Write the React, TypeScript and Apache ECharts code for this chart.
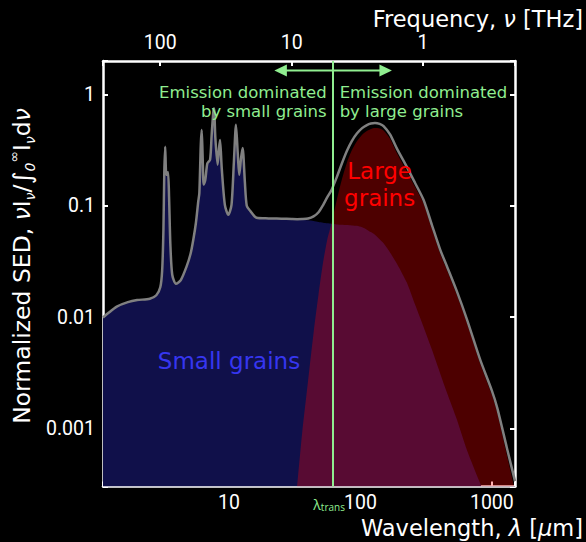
import React, { useEffect, useRef } from 'react';
import * as echarts from 'echarts';

// Speed of light in μm·THz, used to turn wavelength into frequency.
const C_UM_THZ = 299.792458;

// Axis extents
const X_MIN = 1.1;
const X_MAX = 1500;
const Y_MIN = 3e-4;
const Y_MAX = 2;

// Transition wavelength between the two regimes (μm)
const LAMBDA_TRANS = 62;

// Wavelength grid (μm)
const wavelengths = [
  1.1, 1.2, 1.4, 1.7, 2.0, 2.5, 2.8, 3.0, 3.1, 3.17, 3.22, 3.27, 3.33, 3.38, 3.44, 3.5, 3.58, 3.7,
  3.95, 4.3, 4.76, 5.1, 5.35, 5.6, 5.84, 5.95, 6.1, 6.2, 6.3, 6.42, 6.6, 6.84, 7.18, 7.38, 7.6,
  7.7, 7.87, 8.19, 8.4, 8.55, 8.8, 9.3, 9.88, 10.45, 10.9, 11.3, 11.65, 11.97, 12.35, 12.7, 13.2,
  13.65, 14.5, 16.2, 20, 25, 30, 33, 36, 40, 44, 48, 52, 56, 60, 66, 72, 79, 86, 94, 103, 112,
  120, 129, 140, 150, 168, 190, 225, 260, 302, 350, 405, 455, 542, 646, 816, 1000, 1100, 1300,
  1500,
];

// Normalized SED of the small grains (PAH bands + hot continuum)
const smallGrains = [
  0.0099, 0.0108, 0.0124, 0.0136, 0.0142, 0.0146, 0.0157, 0.0185, 0.026, 0.06, 0.2, 0.34, 0.19,
  0.19, 0.2, 0.12, 0.045, 0.024,
  0.0199, 0.0215, 0.0285, 0.037, 0.0495, 0.07, 0.11, 0.13, 0.35, 0.48, 0.28, 0.155, 0.17, 0.24,
  0.26, 0.43, 0.7,
  0.75, 0.41, 0.234, 0.33, 0.39, 0.22, 0.102, 0.083, 0.102, 0.25, 0.534, 0.3, 0.19, 0.268, 0.33,
  0.165,
  0.1, 0.09, 0.078, 0.077, 0.0765, 0.076, 0.0755, 0.075, 0.074, 0.073, 0.0715, 0.0705, 0.0695,
  0.069, 0.068, 0.0675, 0.067, 0.0665, 0.066, 0.064, 0.061,
  0.058, 0.055, 0.05, 0.046, 0.038, 0.03, 0.0205, 0.013, 0.0082, 0.0051, 0.0031, 0.0021, 0.0012,
  0.00064, 0.00032, 0.00018, 0.00014, 0.00009,
  0.00006,
];

// Normalized SED of the large grains (thermal equilibrium emission)
const largeGrains: (number | null)[] = [
  null, null, null, null, null, null, null, null, null, null, null, null, null, null, null, null,
  null, null,
  null, null, null, null, null, null, null, null, null, null, null, null, null, null, null, null,
  null,
  null, null, null, null, null, null, null, null, null, null, null, null, null, null, null, null,
  null, null, null, null, null, null, 0.0003, 0.0009, 0.0027, 0.0072, 0.016, 0.031, 0.05, 0.068,
  0.112, 0.17, 0.245, 0.315, 0.38, 0.435, 0.47,
  0.49, 0.5, 0.495, 0.475, 0.4, 0.295, 0.2045, 0.148, 0.105, 0.062, 0.037, 0.0265, 0.0158, 0.0089,
  0.0038, 0.002, 0.00138, 0.00058,
  0.000275,
];

// Tick labels shown on each axis
const wavelengthTicks = ['10', '100', '1000'];
const frequencyTicks = ['1', '10', '100'];
const sedTicks = ['0.001', '0.01', '0.1', '1'];

const TICK_FONT = "Roboto, 'Open Sans', sans-serif";
const SANS = "'Open Sans', 'Noto Sans', sans-serif";
const DEJAVU = "'DejaVu Sans', sans-serif";
const GREEN = '#90ee90';
const TITLE_SIZE = 22.5;
const TICK_SIZE = 19.5;

const decadeLabel = (allowed: string[]) => (v: number) => {
  const e = Math.log10(v);
  const r = Math.round(e);
  if (Math.abs(e - r) > 1e-6) return '';
  const s = r >= 0 ? String(Math.round(Math.pow(10, r))) : Math.pow(10, r).toFixed(-r);
  return allowed.includes(s) ? s : '';
};

const frameLine = { show: true, onZero: false, lineStyle: { color: '#ffffff', width: 2.5 } };
const innerTicks = { show: true, inside: true, length: 5, lineStyle: { color: '#ffffff', width: 2 } };

const smallData = wavelengths.map((w, i) => [w, smallGrains[i]]);
const largeData = wavelengths
  .map((w, i) => [w, largeGrains[i]])
  .filter((p) => p[1] !== null) as number[][];
const totalData = wavelengths.map((w, i) => [w, smallGrains[i] + (largeGrains[i] ?? 0)]);

const SMOOTH = 0.25;

const tickLabel = (margin: number, allowed: string[]) => ({
  color: '#ffffff',
  fontFamily: TICK_FONT,
  fontSize: TICK_SIZE,
  margin,
  formatter: decadeLabel(allowed),
});

const option: any = {
  animation: false,
  backgroundColor: '#000000',
  grid: { left: 103, right: 71, top: 61, bottom: 55.5, containLabel: false },
  xAxis: [
    {
      type: 'log',
      logBase: 10,
      min: X_MIN,
      max: X_MAX,
      position: 'bottom',
      axisLine: frameLine,
      axisTick: innerTicks,
      minorTick: { show: false },
      splitLine: { show: false },
      axisLabel: tickLabel(5.5, wavelengthTicks),
    },
    {
      type: 'log',
      logBase: 10,
      min: C_UM_THZ / X_MAX,
      max: C_UM_THZ / X_MIN,
      inverse: true,
      position: 'top',
      axisLine: frameLine,
      axisTick: innerTicks,
      minorTick: { show: false },
      splitLine: { show: false },
      axisLabel: tickLabel(8.5, frequencyTicks),
    },
  ],
  yAxis: [
    {
      type: 'log',
      logBase: 10,
      min: Y_MIN,
      max: Y_MAX,
      position: 'left',
      axisLine: frameLine,
      axisTick: innerTicks,
      minorTick: { show: false },
      splitLine: { show: false },
      axisLabel: tickLabel(8, sedTicks),
    },
    {
      type: 'log',
      logBase: 10,
      min: Y_MIN,
      max: Y_MAX,
      position: 'right',
      axisLine: frameLine,
      axisTick: innerTicks,
      minorTick: { show: false },
      splitLine: { show: false },
      axisLabel: { show: false },
    },
  ],
  series: [
    {
      name: 'Small grains',
      type: 'line',
      xAxisIndex: 0,
      yAxisIndex: 0,
      data: smallData,
      symbol: 'none',
      smooth: SMOOTH,
      lineStyle: { width: 0 },
      areaStyle: { color: '#10104a', opacity: 1, origin: 'start' },
      z: 1,
      silent: true,
    },
    {
      name: 'Large grains',
      type: 'line',
      xAxisIndex: 0,
      yAxisIndex: 0,
      data: largeData,
      symbol: 'none',
      smooth: SMOOTH,
      lineStyle: { width: 0 },
      areaStyle: { color: 'rgba(255,0,0,0.3)', opacity: 1, origin: 'start' },
      z: 2,
      silent: true,
    },
    {
      name: 'Total',
      type: 'line',
      xAxisIndex: 0,
      yAxisIndex: 0,
      data: totalData,
      symbol: 'none',
      smooth: SMOOTH,
      lineStyle: { color: '#808080', width: 2.5 },
      z: 3,
      silent: true,
      markLine: {
        silent: true,
        symbol: ['none', 'none'],
        label: { show: false },
        lineStyle: { color: GREEN, width: 2, type: 'solid' },
        data: [{ xAxis: LAMBDA_TRANS }],
      },
    },
  ],
};

export default function App() {
  const ref = useRef<HTMLDivElement>(null);

  useEffect(() => {
    document.body.style.margin = '0';
    document.body.style.background = '#000';
    const chart = echarts.init(ref.current!, null, { renderer: 'svg' });
    chart.setOption(option);

    const px = (l: number, v: number) =>
      chart.convertToPixel({ seriesIndex: 0 }, [l, v]) as number[];

    const [lx] = px(LAMBDA_TRANS, 1);
    const ay = px(1, 1.64)[1];
    const [xl] = px(LAMBDA_TRANS / 2.8, 1);
    const [xr] = px(LAMBDA_TRANS * 2.8, 1);
    const textY = px(1, 0.86)[1];
    const small = px(10, 0.004);
    const large = px(140, 0.155);
    const head = 12.5;
    const half = 6;

    const titleRich = {
      n: { fontSize: TITLE_SIZE, fontFamily: DEJAVU, fill: '#ffffff' },
      i: { fontSize: TITLE_SIZE, fontFamily: DEJAVU, fontStyle: 'italic', fill: '#ffffff' },
    };

    const regimeText = (text: string, x: number, align: 'left' | 'right') => ({
      type: 'text',
      z: 100,
      x,
      y: textY,
      style: {
        text,
        align,
        verticalAlign: 'middle',
        font: `16.5px ${DEJAVU}`,
        lineHeight: 19.5,
        fill: GREEN,
      },
    });

    chart.setOption({
      graphic: [
        {
          type: 'line',
          z: 100,
          shape: { x1: xl + head - 1, y1: ay, x2: xr - head + 1, y2: ay },
          style: { stroke: GREEN, lineWidth: 2 },
        },
        {
          type: 'polygon',
          z: 100,
          shape: { points: [[xl, ay], [xl + head, ay - half], [xl + head, ay + half]] },
          style: { fill: GREEN },
        },
        {
          type: 'polygon',
          z: 100,
          shape: { points: [[xr, ay], [xr - head, ay - half], [xr - head, ay + half]] },
          style: { fill: GREEN },
        },
        regimeText('Emission dominated\nby small grains', lx - 6.5, 'right'),
        regimeText('Emission dominated\nby large grains', lx + 6.5, 'left'),
        {
          type: 'text',
          z: 100,
          x: small[0],
          y: small[1],
          style: {
            text: 'Small grains',
            align: 'center',
            verticalAlign: 'middle',
            font: `23px ${DEJAVU}`,
            fill: '#3636f0',
          },
        },
        {
          type: 'text',
          z: 100,
          x: large[0],
          y: large[1],
          style: {
            text: 'Large\ngrains',
            align: 'center',
            verticalAlign: 'middle',
            font: `23px ${DEJAVU}`,
            lineHeight: 27,
            fill: '#ff0000',
          },
        },
        {
          type: 'text',
          z: 100,
          x: lx - 4,
          y: 503,
          style: {
            text: '{l|λ}{s|trans}',
            align: 'center',
            verticalAlign: 'middle',
            fill: GREEN,
            rich: {
              l: { fontSize: 14, fontFamily: SANS, fill: GREEN, lineHeight: 17, verticalAlign: 'bottom' },
              s: { fontSize: 10, fontFamily: SANS, fill: GREEN, lineHeight: 12, verticalAlign: 'bottom' },
            },
          },
        },
        {
          type: 'text',
          z: 100,
          x: 583,
          y: 527.5,
          style: {
            text: '{n|Wavelength, }{i|λ}{n| [}{i|μ}{n|m]}',
            align: 'right',
            verticalAlign: 'middle',
            fill: '#ffffff',
            rich: titleRich,
          },
        },
        {
          type: 'text',
          z: 100,
          x: 583,
          y: 18.5,
          style: {
            text: '{n|Frequency, }{i|ν}{n| [THz]}',
            align: 'right',
            verticalAlign: 'middle',
            fill: '#ffffff',
            rich: titleRich,
          },
        },
        {
          type: 'text',
          z: 100,
          x: 22,
          y: 266,
          rotation: Math.PI / 2,
          style: {
            text:
              '{n|Normalized SED, }{i|ν}{n|I}{sub|ν}{n|/}{int|∫}{sub|0}{sup|∞}{n|I}{sub|ν}{n|d}{i|ν}',
            align: 'center',
            verticalAlign: 'middle',
            fill: '#ffffff',
            rich: {
              n: { fontSize: 23.5, fontFamily: DEJAVU, fill: '#ffffff', lineHeight: 30 },
              i: { fontSize: 23.5, fontFamily: DEJAVU, fontStyle: 'italic', fill: '#ffffff', lineHeight: 30 },
              int: { fontSize: 25, fontFamily: DEJAVU, fontStyle: 'italic', fill: '#ffffff', lineHeight: 30 },
              sub: { fontSize: 14, fontFamily: DEJAVU, fontStyle: 'italic', fill: '#ffffff', lineHeight: 14, verticalAlign: 'bottom' },
              sup: { fontSize: 14, fontFamily: DEJAVU, fill: '#ffffff', lineHeight: 14, verticalAlign: 'top' },
            },
          },
        },
      ],
    });

    return () => chart.dispose();
  }, []);

  return <div ref={ref} style={{ width: 586, height: 542 }} />;
}
